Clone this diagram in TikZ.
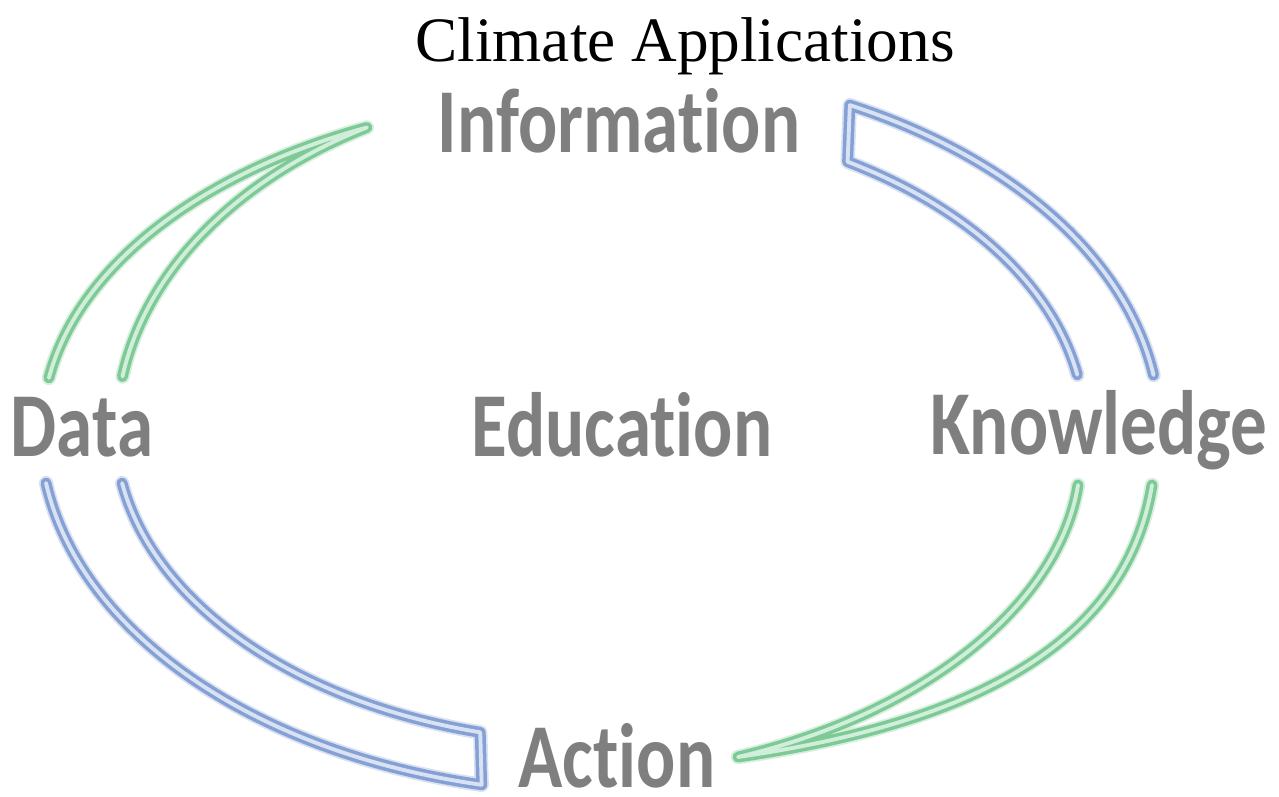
\documentclass[tikz,border=0pt]{standalone}
\usepackage{fontspec}
\setmainfont{Liberation Serif}
\newfontfamily\labelfont[FakeStretch=0.8, Ligatures=NoCommon]{Carlito}
\usetikzlibrary{positioning}

\definecolor{labelgray}{RGB}{127,127,127}
\definecolor{blueedge}{RGB}{132,160,212}
\definecolor{bluecore}{RGB}{216,226,243}
\definecolor{greenedge}{RGB}{126,202,150}
\definecolor{greencore}{RGB}{208,238,217}

\tikzset{
    cycle label/.style={font=\labelfont\bfseries\fontsize{52}{52}\selectfont,
        text=labelgray, inner sep=0pt, anchor=base},
    title label/.style={font=\fontsize{36}{36}\selectfont, inner sep=0pt, anchor=base},
    band/.style={line width=2pt, double distance=2.2pt, line cap=round, line join=round},
    blue band/.style={band, draw=blueedge, double=bluecore,
        preaction={draw=blueedge!30, line width=8.2pt, line cap=round, line join=round}},
    green band/.style={band, draw=greenedge, double=greencore,
        preaction={draw=greenedge!30, line width=8.2pt, line cap=round, line join=round}}
}

\begin{document}
\begin{tikzpicture}[x=0.02cm, y=-0.02cm]
    \useasboundingbox (0,0) rectangle (1279,797);

    % labels
    \node[title label] (title) at (685,62) {Climate Applications};
    \node[cycle label] (info) at (619,153) {Information};
    \node[cycle label] (data) at (82,457) {Data};
    \node[cycle label] (edu) at (622,457) {Education};
    \node[cycle label] (know) at (1099,455) {Knowledge};
    \node[cycle label, text depth=0pt] (act) at (617,787) {Action};

    % bands round the centre of the cycle
    \begin{scope}[shift={(600,430)}]
        % Information -> Knowledge
        \draw[blue band] (-10.2:485 and 312)
            arc[start angle=-10.2, end angle=-59.3, x radius=485, y radius=312]
            -- (-63.5:560 and 363)
            arc[start angle=-63.5, end angle=-8.7, x radius=560, y radius=363];
        % Data -> Action
        \draw[blue band] (170.2:485 and 312)
            arc[start angle=170.2, end angle=104.3, x radius=485, y radius=312]
            -- (102.2:560 and 363)
            arc[start angle=102.2, end angle=171.6, x radius=560, y radius=363];
        % Data -> Information
        \draw[green band] (-171:558 and 333)
            arc[start angle=-171, end angle=-114.7, x radius=558, y radius=333]
            arc[start angle=-118.8, end angle=-171, x radius=483, y radius=346];
    \end{scope}
    % Knowledge -> Action
    \draw[green band] (1152,485) .. controls (1127,640) and (980,722) .. (738,757)
        .. controls (930,712) and (1060,600) .. (1078,485);
\end{tikzpicture}
\end{document}
